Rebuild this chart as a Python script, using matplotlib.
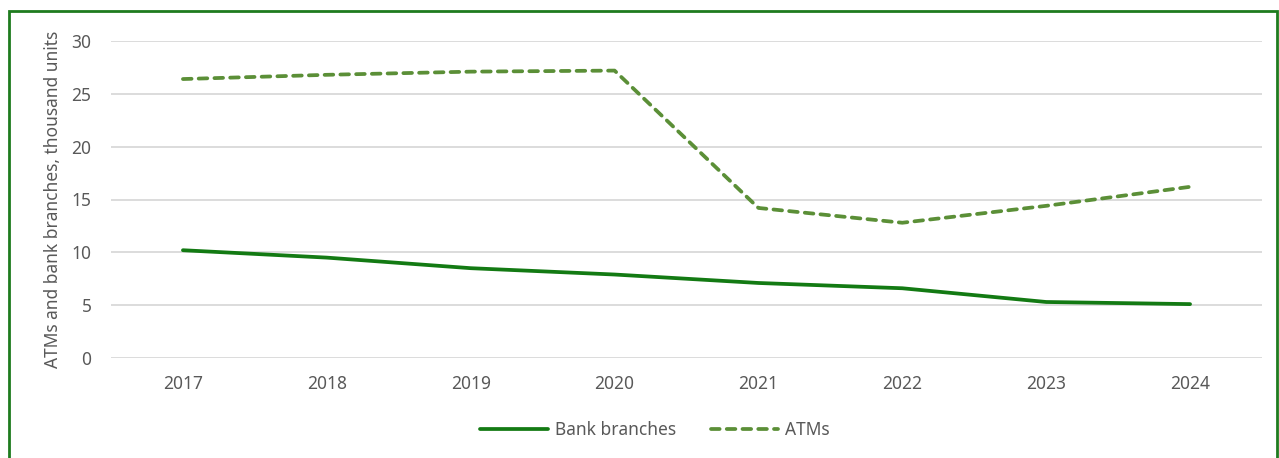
import matplotlib
matplotlib.use("Agg")
import matplotlib.pyplot as plt
from matplotlib.patches import Rectangle

years = ["2017", "2018", "2019", "2020", "2021", "2022", "2023", "2024"]
bank_branches = [10.2, 9.5, 8.5, 7.9, 7.1, 6.6, 5.3, 5.1]
atms = [26.4, 26.8, 27.1, 27.2, 14.2, 12.8, 14.4, 16.2]

plt.rcParams['font.family'] = ['Noto Sans', 'DejaVu Sans']
text_color = '#595959'
frame_color = '#1E7B1E'

fig = plt.figure(figsize=(12.79, 4.58), dpi=100)
ax = fig.add_axes([111 / 1279, 1 - 358 / 458, 1151 / 1279, 317 / 458])

x = range(len(years))
ax.plot(x, bank_branches, color='#137A13', linewidth=2.7, solid_capstyle='round',
        label='Bank branches')
ax.plot(x, atms, color='#5B8F37', linewidth=2.7, dashes=(2.3, 1.9),
        dash_capstyle='round', label='ATMs')

ax.set_xlim(-0.5, len(years) - 0.5)
ax.set_ylim(0, 30)
ax.set_yticks(range(0, 31, 5))
ax.set_xticks(list(x))
ax.set_xticklabels(years)
ax.grid(axis='y', color='#D9D9D9', linewidth=1.3)
ax.set_axisbelow(True)
for spine in ax.spines.values():
    spine.set_visible(False)
ax.tick_params(length=0, labelsize=12.5, colors=text_color)
ax.tick_params(axis='y', pad=14)
ax.tick_params(axis='x', pad=12)

ax.set_ylabel('ATMs and bank branches, thousand units', fontsize=12.5, color=text_color)
ax.yaxis.set_label_coords(-0.043, 0.5)

fig.legend(loc='center', bbox_to_anchor=(655 / 1279, 1 - 430 / 458), ncol=2, frameon=False,
           fontsize=12.5, labelcolor=text_color, handlelength=3.9, handletextpad=0.4,
           columnspacing=2.0)

# green frame around the chart (bottom edge falls outside the image)
fig.patches.append(Rectangle((9 / 1279, -0.1), (1277 - 9) / 1279, 1.1 - 11 / 458,
                             transform=fig.transFigure, fill=False,
                             edgecolor=frame_color, linewidth=2, clip_on=False))

fig.savefig('out.png', dpi=100)
